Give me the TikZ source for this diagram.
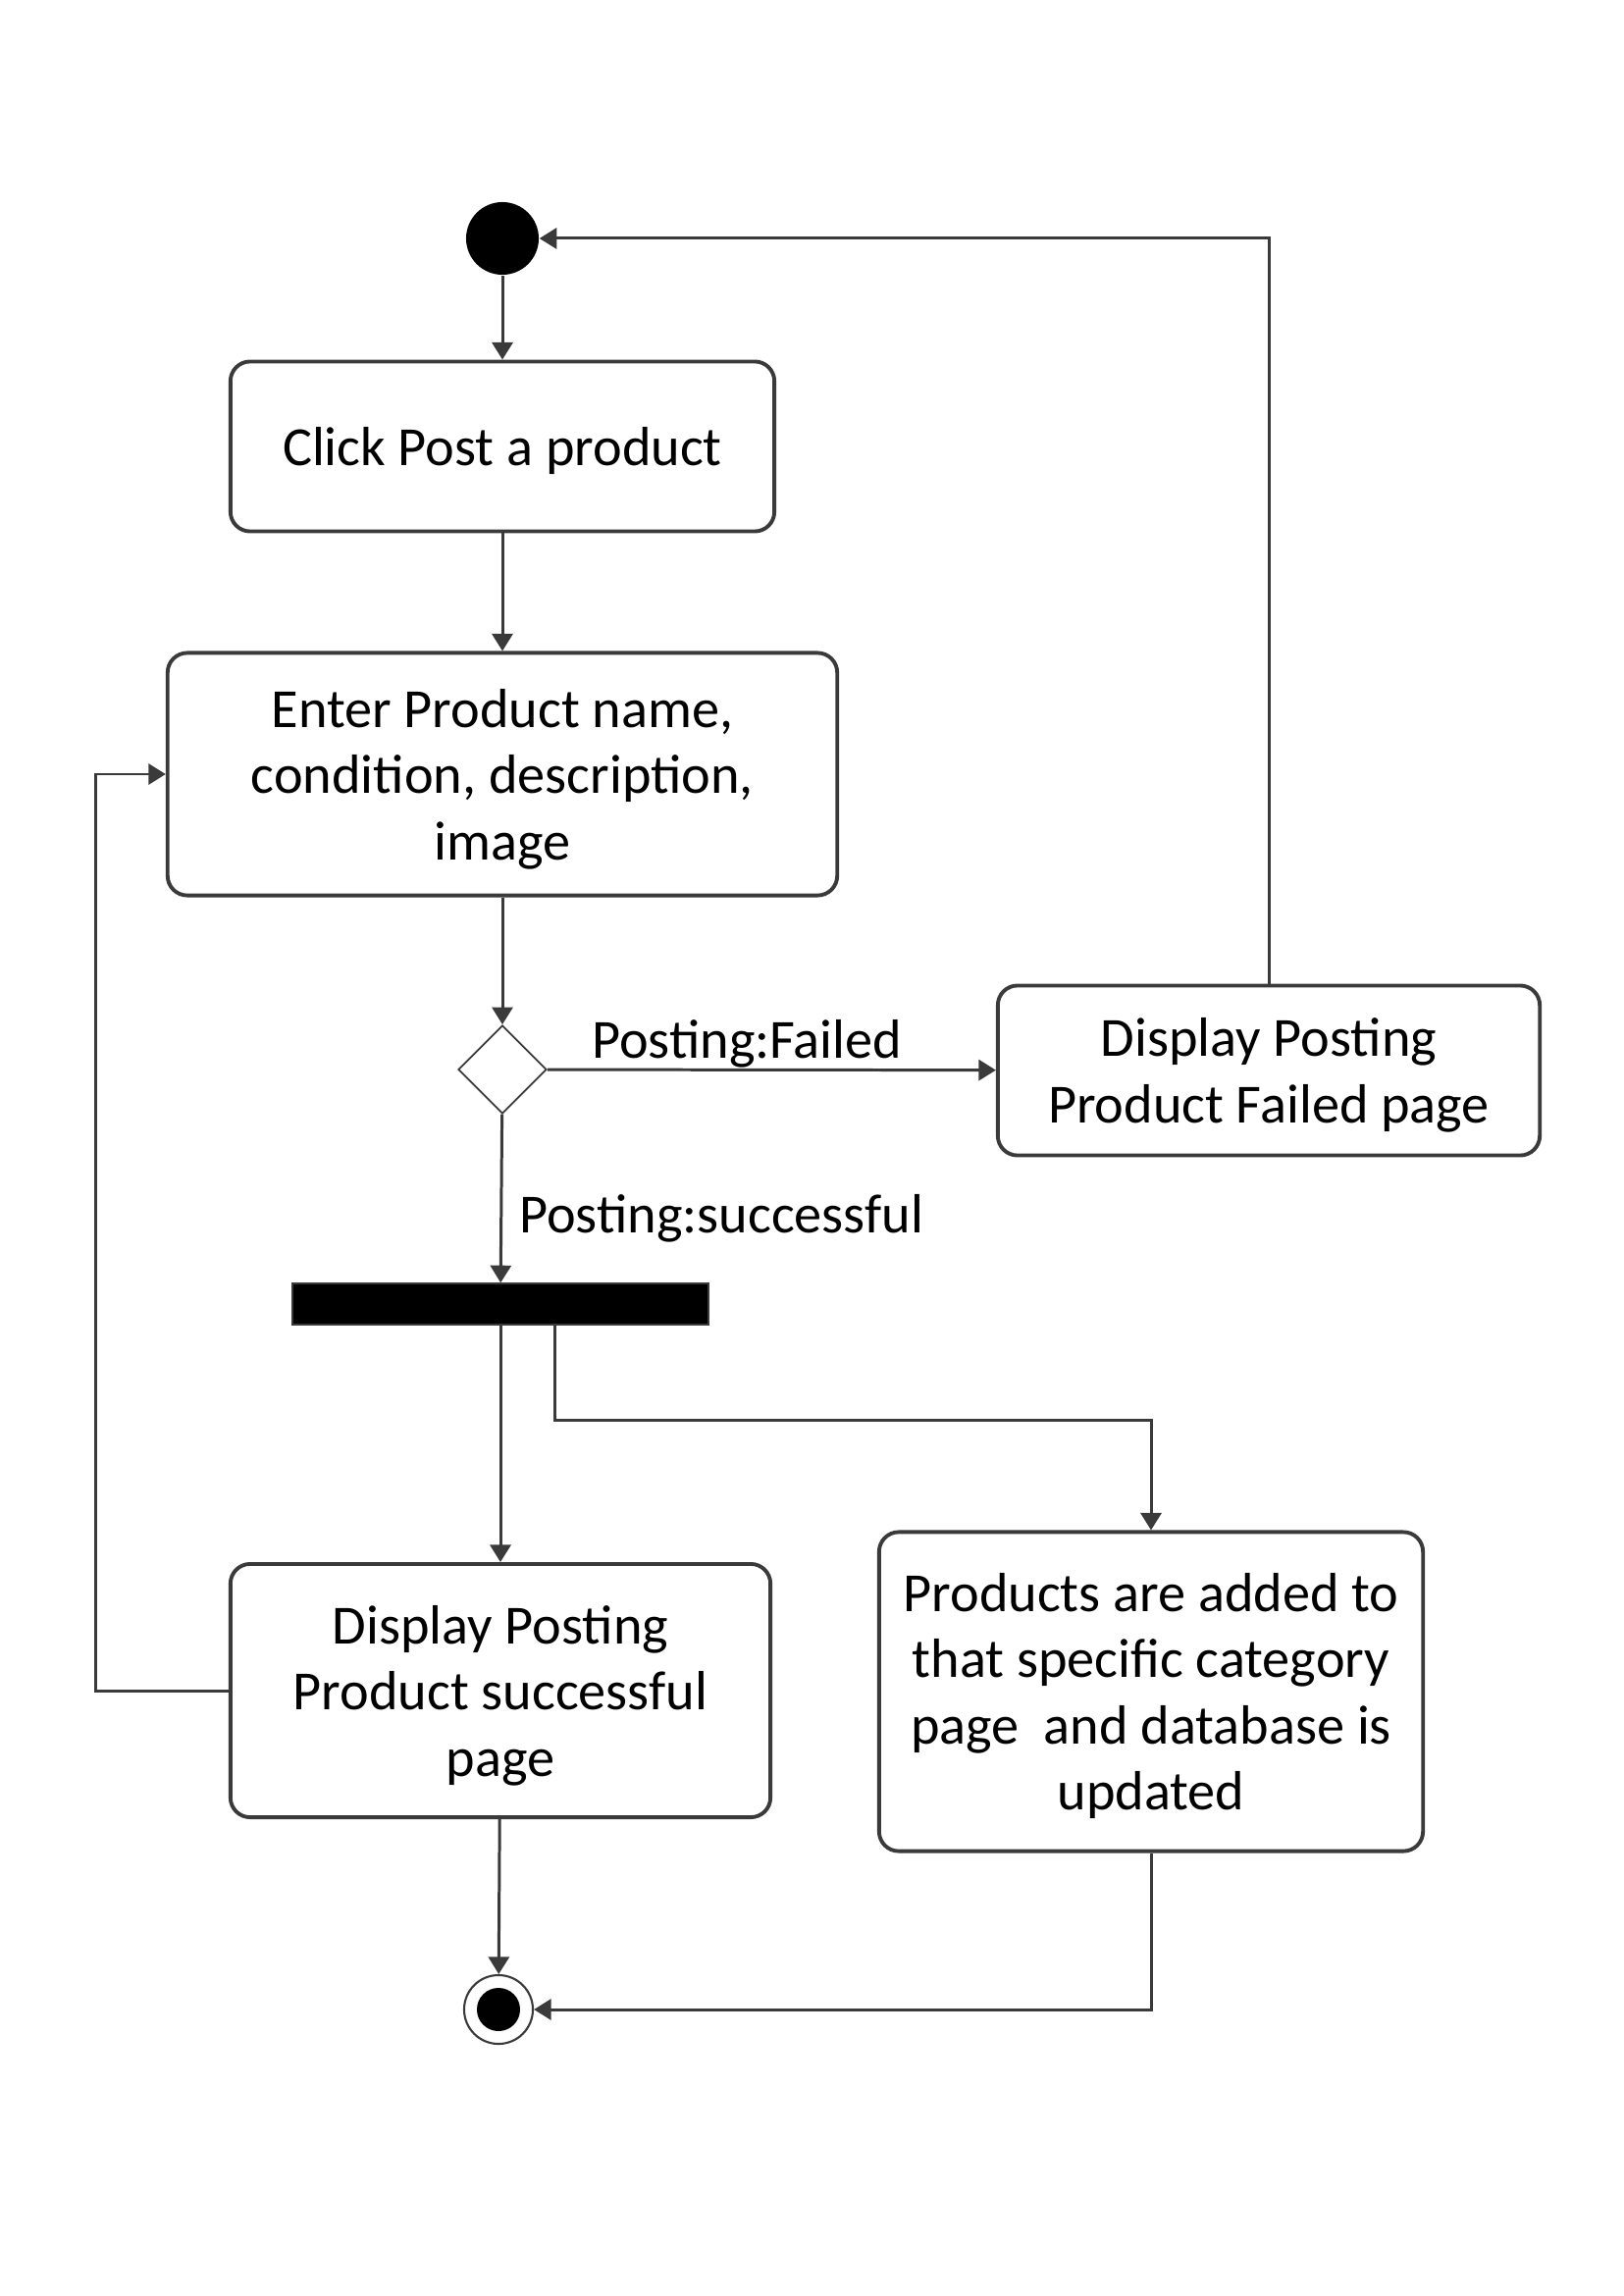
\documentclass[tikz,border=0pt]{standalone}
\usepackage{fontspec}
\setmainfont{Carlito}
\usepackage{tikz}
\usetikzlibrary{arrows.meta,positioning,shapes.geometric}
\definecolor{mylinegray}{RGB}{58,58,58}

\begin{document}
\begin{tikzpicture}[
  x=0.01cm,
  y=-0.01cm,
  myact/.style={
    draw=mylinegray,
    line width=1.1pt,
    rectangle,
    rounded corners=0.2cm,
    align=center,
    inner sep=0pt,
    text depth=-1.8pt,
    font=\fontsize{16}{19.2}\selectfont
    },
  mylabel/.style={
    inner sep=2pt,
    yshift=-1.7pt,
    font=\fontsize{16}{19.2}\selectfont
    },
  myflow/.style={
    draw=mylinegray,
    line width=0.85pt,
    -{Triangle[length=5pt,width=6pt]}
    },
  mystart/.style={
    circle,
    fill=black,
    minimum size=0.74cm,
    inner sep=0pt
    },
  myend/.style={
    circle,
    draw=mylinegray,
    line width=0.6pt,
    minimum size=0.7cm,
    inner sep=0pt,
    path picture={\fill[black] (path picture bounding box.center) circle (0.22cm);}
    },
  mydec/.style={
    diamond,
    draw=mylinegray,
    line width=0.5pt,
    aspect=1,
    minimum width=0.9cm,
    minimum height=0.9cm,
    inner sep=0pt
    },
  myfork/.style={
    rectangle,
    fill=black,
    draw=mylinegray,
    minimum width=4.24cm,
    minimum height=0.42cm,
    inner sep=0pt
    }
]
\useasboundingbox (0,0) rectangle (1655,2340);

\node[mystart] at (512,243) (start) {};
\node[myact, minimum width=5.54cm, minimum height=1.73cm] at (512,455) (click) {Click Post a product};
\node[myact, minimum width=6.82cm, minimum height=2.47cm] at (512,789) (enter) {Enter Product name,\\condition, description,\\image};
\node[mydec] at (512,1090) (dec) {};
\node[myact, minimum width=5.52cm, minimum height=1.73cm] at (1293,1091) (failed) {Display Posting\\Product Failed page};
\node[myfork] at (510,1329) (fork) {};
\node[myact, minimum width=5.50cm, minimum height=2.58cm] at (510,1723) (success) {Display Posting\\Product successful\\page};
\node[myact, minimum width=5.54cm, minimum height=3.25cm] at (1173,1724) (added) {Products are added to\\that specific category\\page \ and database is\\updated};
\node[myend] at (508,2048) (final) {};

\draw[myflow] (start) -- (click);
\draw[myflow] (click) -- (enter);
\draw[myflow] (enter) -- (dec);
\draw[myflow] (dec) -- node[mylabel, above, pos=0.445] (lfail) {Posting:Failed} (failed);
\draw[myflow] (failed) |- (start);
\draw[myflow] (dec) -- node[mylabel, right=1mm, pos=0.586] (lsucc) {Posting:successful} (fork);
\draw[myflow] (fork) -- (success);
\draw[myflow] ([xshift=0.55cm]fork.south) -- ++(0,97) -| (added);
\draw[myflow] (success.west) -- ++(-135,0) |- (enter);
\draw[myflow] (success) -- (final);
\draw[myflow] (added) |- (final);

\end{tikzpicture}
\end{document}
